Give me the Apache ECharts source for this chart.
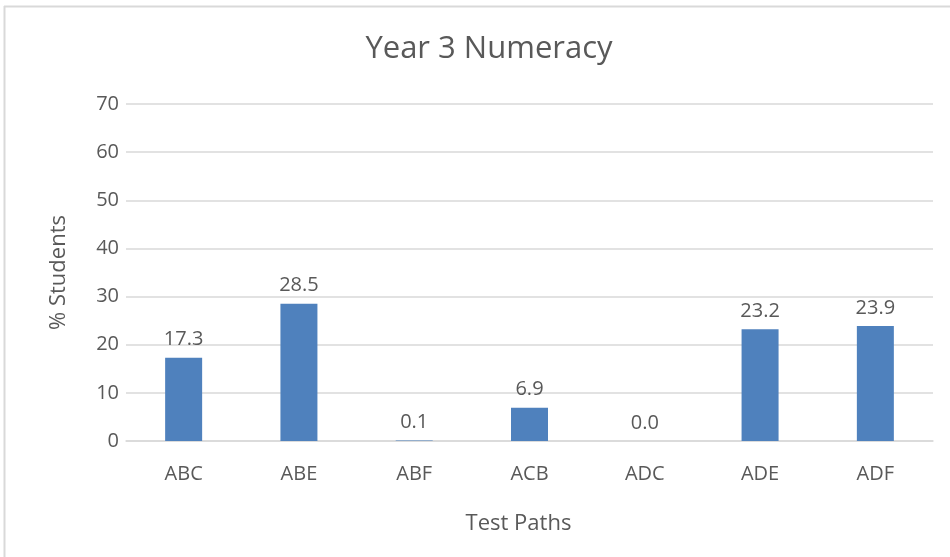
<!DOCTYPE html>
<html>
<head>
<meta charset="utf-8">
<script src="https://cdn.jsdelivr.net/npm/echarts@6/dist/echarts.min.js"></script>
<style>
  html, body { margin: 0; padding: 0; background: #fff; }
  #chart { width: 950px; height: 557px; }
</style>
</head>
<body>
<div id="chart"></div>
<script>
const categories = ["ABC", "ABE", "ABF", "ACB", "ADC", "ADE", "ADF"];
const percentStudents = [17.3, 28.5, 0.1, 6.9, 0.0, 23.2, 23.9];
const yTicks = { min: 0, max: 70, interval: 10 };

const textColor = "#595959";
const font = "'Open Sans', 'Noto Sans', sans-serif";

const chart = echarts.init(document.getElementById("chart"));
chart.setOption({
  backgroundColor: "#fff",
  animation: false,
  graphic: [
    { type: "line", shape: { x1: 4.5, y1: 6, x2: 4.5, y2: 557 }, style: { stroke: "#d9d9d9", lineWidth: 2 } },
    { type: "line", shape: { x1: 4, y1: 6.5, x2: 950, y2: 6.5 }, style: { stroke: "#d9d9d9", lineWidth: 2 } }
  ],
  title: {
    text: "Year 3 Numeracy",
    left: 484,
    top: 29,
    textAlign: "center",
    textStyle: { fontFamily: font, fontSize: 31, fontWeight: "normal", color: textColor }
  },
  grid: { left: 126, right: 17, top: 104, bottom: 116 },
  xAxis: {
    type: "category",
    data: categories,
    name: "Test Paths",
    nameLocation: "middle",
    nameGap: 72,
    nameTextStyle: { fontFamily: font, fontSize: 22, color: textColor, padding: [0, 22, 0, 0] },
    axisTick: { show: false },
    axisLine: { lineStyle: { color: "#d9d9d9", width: 1.5 } },
    axisLabel: { fontFamily: font, fontSize: 20, color: textColor, margin: 23 }
  },
  yAxis: {
    type: "value",
    min: yTicks.min,
    max: yTicks.max,
    interval: yTicks.interval,
    name: "% Students",
    nameLocation: "middle",
    nameGap: 56,
    nameTextStyle: { fontFamily: font, fontSize: 22, color: textColor },
    axisLine: { show: false },
    axisTick: { show: false },
    axisLabel: { fontFamily: font, fontSize: 20, color: textColor, margin: 7 },
    splitLine: { lineStyle: { color: "#d9d9d9", width: 1.5 } }
  },
  series: [{
    type: "bar",
    data: percentStudents,
    barWidth: 37,
    itemStyle: { color: "#4f81bd" },
    label: {
      show: true,
      position: "top",
      distance: 8,
      formatter: p => p.value.toFixed(1),
      fontFamily: font,
      fontSize: 20,
      color: textColor
    }
  }]
});
</script>
</body>
</html>
